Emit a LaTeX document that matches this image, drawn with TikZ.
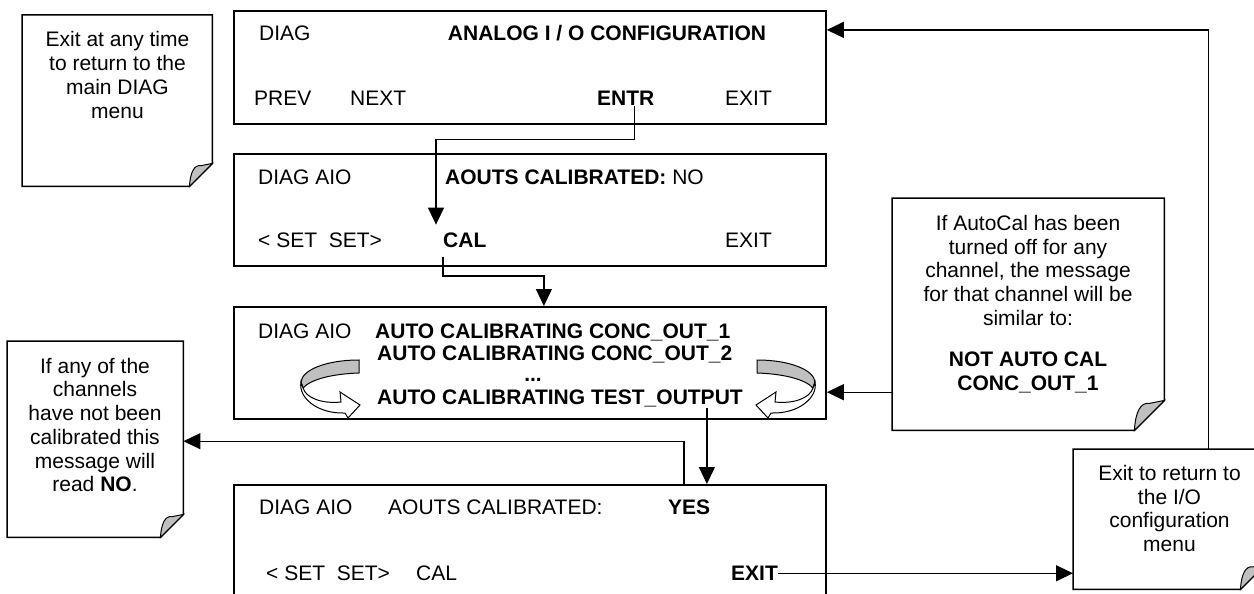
\documentclass[tikz,border=0pt]{standalone}
\usepackage{fontspec}
\setmainfont{Liberation Sans}
\usetikzlibrary{arrows.meta}
\definecolor{foldgray}{RGB}{192,192,192}
\newcommand\foldnote[2]{%
  \filldraw[line width=1.5pt, fill=white, line join=miter]
    (#1.north west) -- (#1.north east) -- ([shift={(0,-#2)}]#1.south east)
    -- ([shift={(-#2,0)}]#1.south east) -- (#1.south west) -- cycle;
  \filldraw[line width=1pt, fill=foldgray]
    ([shift={(-#2,0)}]#1.south east)
    .. controls ([shift={(-#2+1,-0.6*#2)}]#1.south east) and ([shift={(-0.8*#2,-0.95*#2)}]#1.south east)
    .. ([shift={(-0.5*#2,-0.9*#2)}]#1.south east) -- ([shift={(0,-#2)}]#1.south east) -- cycle;
}
\newcommand\ribbonarrow{%
  \filldraw[line width=1pt, fill=foldgray]
    (359,360) .. controls (326,360) and (302,370) .. (301,382)
    -- (303,388) .. controls (310,380) and (330,374) .. (359,373) -- cycle;
  \filldraw[line width=1pt, fill=white, line join=miter]
    (301,382) .. controls (298,398) and (318,414) .. (345,413)
    -- (348,418) -- (360,405) -- (340,392) -- (341,402)
    .. controls (322,404) and (306,398) .. (303,388) -- cycle;
}
\begin{document}
\begin{tikzpicture}[x=1pt,y=-1pt,
  every node/.style={inner sep=0pt, font=\fontsize{21}{21.7}\selectfont},
  scr/.style={draw, line width=1.8pt, minimum width=592pt, minimum height=112pt, anchor=north west},
  notearea/.style={anchor=north west},
  lbl/.style={anchor=base west},
  ctr/.style={anchor=base},
  notetext/.style={align=center, anchor=center, font=\fontsize{21}{23.7}\selectfont},
  con/.style={line width=1.3pt},
  arr/.style={con, -{Triangle[length=17pt,width=16pt]}}
]
\useasboundingbox (0,0) rectangle (1254,594);

% screens
\node[scr, minimum height=113pt] (b1) at (233,10) {};
\node[scr] (b2) at (233,153) {};
\node[scr] (b3) at (233,306) {};
\node[scr] (b4) at (233,484) {};

% screen 1
\node[lbl] (t1a) at (259,40.5) {DIAG};
\node[ctr] (t1b) at (607,40.5) {\textbf{ANALOG I / O CONFIGURATION}};
\node[lbl] (prev) at (254,105.5) {PREV};
\node[lbl] (next) at (350,105.5) {NEXT};
\node[lbl] (entr) at (597,105.5) {\textbf{ENTR}};
\node[lbl] (exit1) at (725,105.5) {EXIT};

% screen 2
\node[lbl] (t2a) at (258,184.5) {DIAG AIO};
\node[lbl] (t2b) at (445,184.5) {\textbf{AOUTS CALIBRATED:} NO};
\node[lbl] (set2) at (258,247.5) {< SET\ \ SET>};
\node[lbl] (cal) at (443,247.5) {\textbf{CAL}};
\node[lbl] (exit2) at (725,247.5) {EXIT};

% screen 3
\node[lbl] (t3a) at (258,338.5) {DIAG AIO};
\node[lbl] (a1) at (375,338.5) {\textbf{AUTO CALIBRATING CONC\_OUT\_1}};
\node[lbl] (a2) at (377,360.5) {\textbf{AUTO CALIBRATING CONC\_OUT\_2}};
\node[ctr] (dots) at (533,381.5) {\textbf{...}};
\node[lbl] (a3) at (377,404.5) {\textbf{AUTO CALIBRATING TEST\_OUTPUT}};
\ribbonarrow
\begin{scope}[xshift=1116pt, xscale=-1]
  \ribbonarrow
\end{scope}

% screen 4
\node[lbl] (t4a) at (259,514.5) {DIAG AIO};
\node[lbl] (t4b) at (388,514.5) {AOUTS CALIBRATED:};
\node[lbl] (yes) at (668,514.5) {\textbf{YES}};
\node[lbl] (set4) at (266,580.5) {< SET\ \ SET>};
\node[lbl] (cal4) at (416,580.5) {CAL};
\node[lbl] (exit4) at (731,580.5) {\textbf{EXIT}};

% notes
\node[notearea, minimum width=190pt, minimum height=171pt] (n1) at (22,15) {};
\foldnote{n1}{23}
\node[notetext] (n1t) at (117.5,75) {Exit at any time\\to return to the\\main DIAG\\menu};

\node[notearea, minimum width=176pt, minimum height=196pt] (n2) at (7,341) {};
\foldnote{n2}{23}
\node[notetext] (n2t) at (95,425) {If any of the\\channels\\have not been\\calibrated this\\message will\\read \textbf{NO}.};

\node[notearea, minimum width=272pt, minimum height=232pt] (n3) at (892,198) {};
\foldnote{n3}{30}
\node[notetext] (n3t) at (1028,304) {If AutoCal has been\\turned off for any\\channel, the message\\for that channel will be\\similar to:\\[17.8pt]\textbf{NOT AUTO CAL}\\\textbf{CONC\_OUT\_1}};

\node[notearea, minimum width=192pt, minimum height=140pt] (n4) at (1073,449) {};
\foldnote{n4}{25}
\node[notetext] (n4t) at (1169.5,508.5) {Exit to return to\\the I/O\\configuration\\menu};

% connectors
\coordinate (tin) at ([xshift=177pt]b4.north);
\draw[arr] ([xshift=9pt]entr.south) -- ++(0,34) -| ([shift={(-7,-8)}]cal.north west);
\draw[arr] ([yshift=-9pt]cal.south west) -- ++(0,19) -| ([xshift=14pt]b3.north);
\draw[arr] ([yshift=-1pt]a3.south -| tin) -- (tin);
\draw[arr] ([xshift=154pt]b4.north) |- ([yshift=-2pt]n2.east);
\draw[arr] ([yshift=-78pt]n3.west) -- ([yshift=-78pt]n3.west -| b3.east);
\draw[arr] (exit4.east) -- (exit4.east -| n4.west);
\draw[arr] ([xshift=39pt]n4.north) |- ([yshift=37.5pt]b1.east);
\end{tikzpicture}
\end{document}
